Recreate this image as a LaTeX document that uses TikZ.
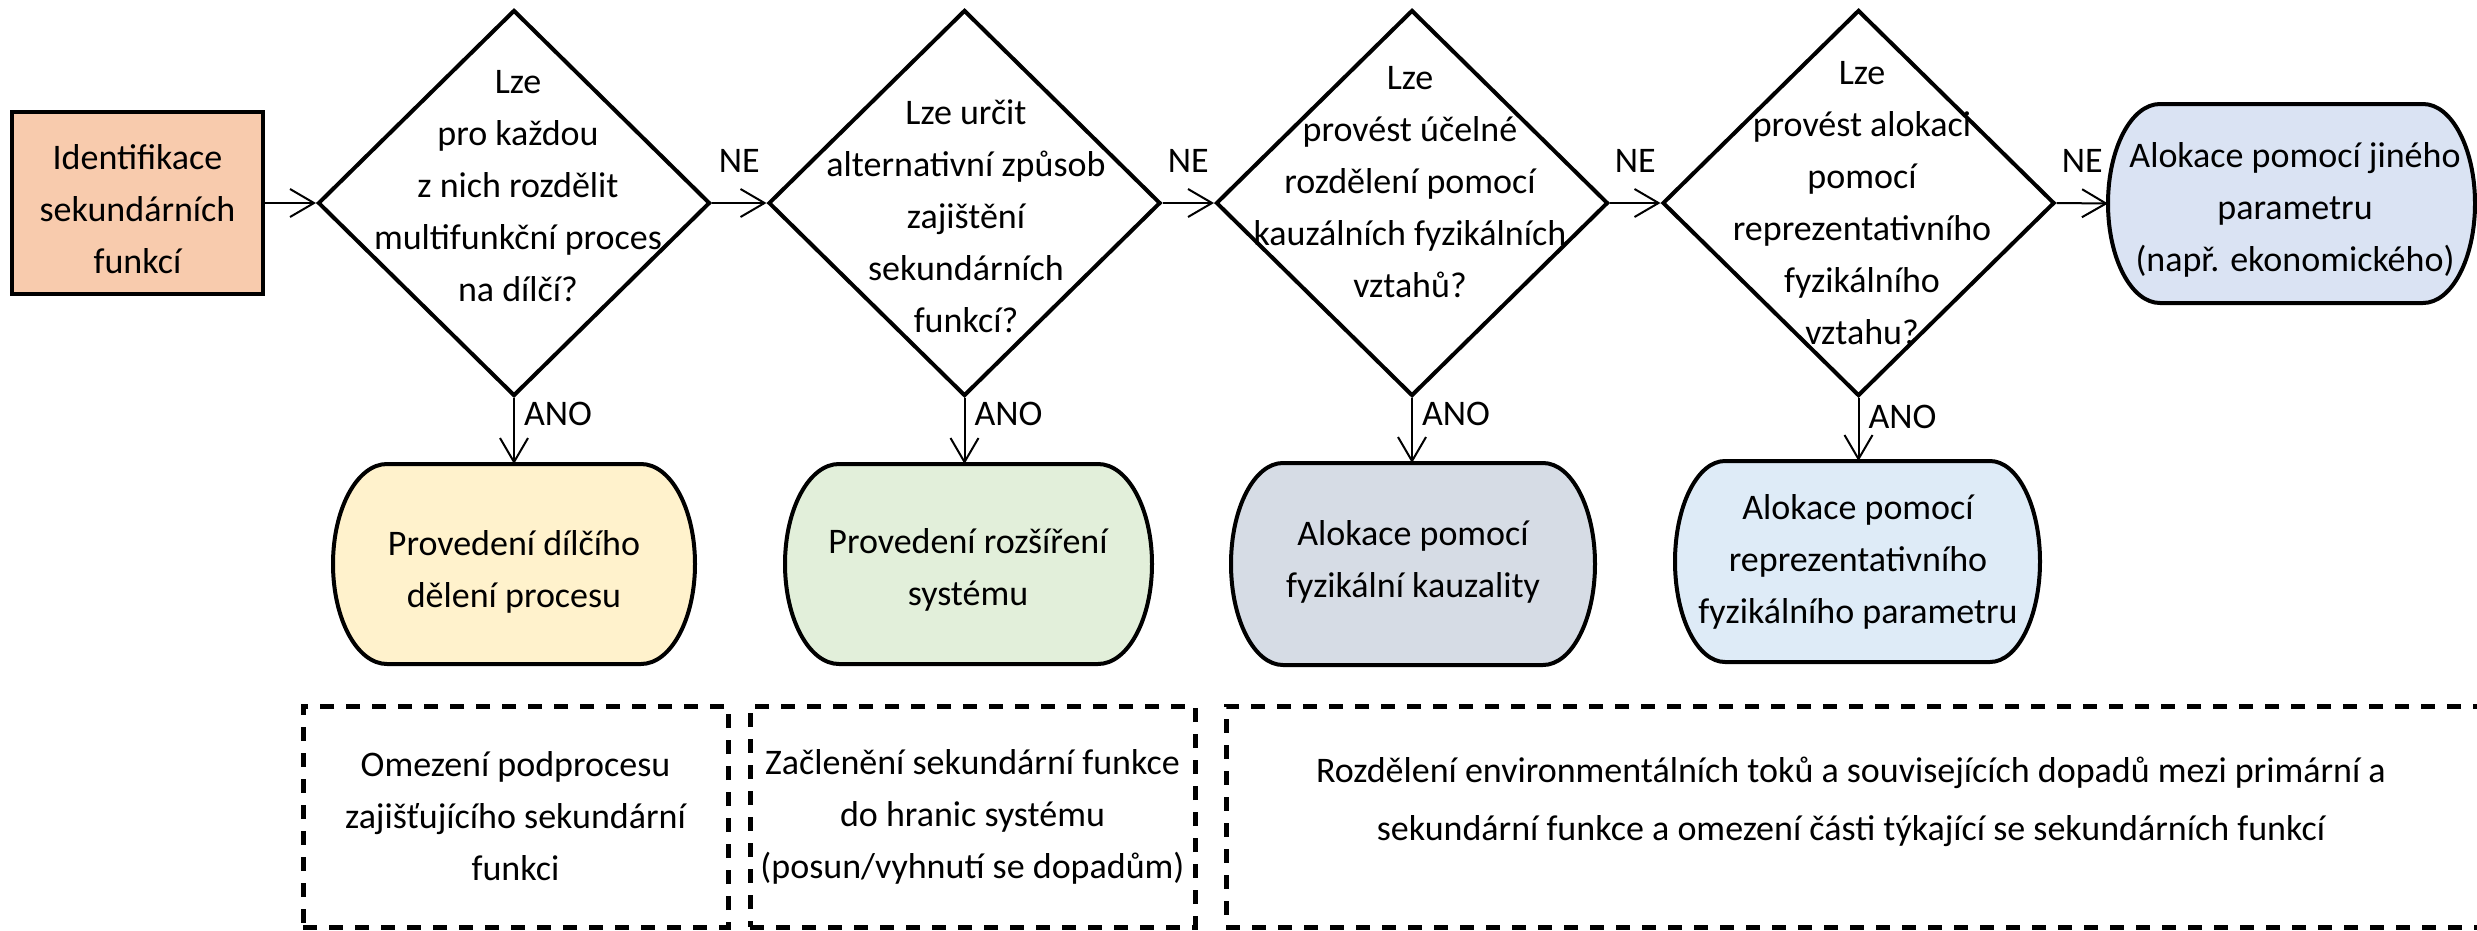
\documentclass[tikz,border=0pt]{standalone}
\usepackage{fontspec}
\setmainfont{Carlito}
\usetikzlibrary{shapes.geometric,arrows.meta}

\definecolor{cStart}{HTML}{F8CBAD}
\definecolor{cSplit}{HTML}{FFF2CC}
\definecolor{cExpand}{HTML}{E2EFDA}
\definecolor{cCausal}{HTML}{D6DCE5}
\definecolor{cParam}{HTML}{DEEBF7}
\definecolor{cOther}{HTML}{DAE3F3}

\tikzset{
  txt/.style={font=\fontsize{36}{52}\selectfont, align=center, inner sep=0pt},
  decision/.style={shape=diamond, draw, line width=4pt, minimum width=392pt,
                   minimum height=386pt, inner sep=0pt},
  startbox/.style={draw, line width=4pt, fill=cStart, minimum width=251pt,
                   minimum height=182pt, inner sep=0pt},
  flow/.style={line width=2pt, -{Straight Barb[length=24pt, width=28pt]}},
  lbl/.style={font=\fontsize{36}{42}\selectfont, inner sep=0pt},
  outline/.style={line width=4pt, line join=round},
  holder/.style={inner sep=0pt, outer sep=0pt},
  dashbox/.style={draw, line width=5pt, dash pattern=on 14pt off 12pt, inner sep=0pt},
}

% barrel-shaped result box: name, cx, cy, half width, half height, bulge, fill
\newcommand\barrelbox[7]{%
  \filldraw[outline, fill=#7]
    ({#2-#4+#6},{#3-#5}) -- ({#2+#4-#6},{#3-#5})
    arc[start angle=-90, end angle=90, x radius=#6, y radius=#5]
    -- ({#2-#4+#6},{#3+#5})
    arc[start angle=90, end angle=270, x radius=#6, y radius=#5] -- cycle;
  \node[holder, minimum width={2*#4 pt}, minimum height={2*#5 pt}] (#1) at (#2,#3) {};
}

\begin{document}
\begin{tikzpicture}[x=1pt, y=-1pt]
\useasboundingbox (0,0) rectangle (2477,930);

% start
\node[startbox] (start) at (137.5,203) {};
\node[txt] (startt) at (137.5,209) {Identifikace\\sekundárních\\funkcí};

% decisions
\node[decision] (q1) at (514,203) {};
\node[decision] (q2) at (964.5,203) {};
\node[decision] (q3) at (1412,203) {};
\node[decision] (q4) at (1858.5,203) {};

\node[txt] (q1t) at (518,186) {Lze\\pro každou\\z nich rozdělit\\multifunkční proces\\na dílčí?};
\node[txt] (q2t) at (966,216) {Lze určit\\alternativní způsob\\zajištění\\sekundárních\\funkcí?};
\node[txt] (q3t) at (1410,182) {Lze\\provést účelné\\rozdělení pomocí\\kauzálních fyzikálních\\vztahů?};
\node[txt] (q4t) at (1862,203) {Lze\\provést alokaci\\pomocí\\reprezentativního\\fyzikálního\\vztahu?};

% results
\barrelbox{other}{2291.5}{203.5}{183.5}{99.5}{52}{cOther}
\node[txt] (othert) at (2295,210) {Alokace pomocí jiného\\parametru\\(např. ekonomického)};

\barrelbox{b1}{514}{564}{181}{100}{54}{cSplit}
\barrelbox{b2}{968.5}{564}{183.5}{100}{54}{cExpand}
\barrelbox{b3}{1413}{564}{182}{101}{52}{cCausal}
\barrelbox{b4}{1857.5}{561.5}{182.5}{100.5}{50}{cParam}

\node[txt] (b1t) at (514,572) {Provedení dílčího\\dělení procesu};
\node[txt] (b2t) at (968,570) {Provedení rozšíření\\systému};
\node[txt] (b3t) at (1413,562) {Alokace pomocí\\fyzikální kauzality};
\node[txt] (b4t) at (1858,562) {Alokace pomocí\\reprezentativního\\fyzikálního parametru};

% connectors along the main line
\draw[flow] (start.east) -- (q1.west);
\draw[flow] (q1.east) -- node[lbl, midway, anchor=south, yshift=30pt] (ne1) {NE} (q2.west);
\draw[flow] (q2.east) -- node[lbl, midway, anchor=south, yshift=30pt] (ne2) {NE} (q3.west);
\draw[flow] (q3.east) -- node[lbl, midway, anchor=south, yshift=30pt] (ne3) {NE} (q4.west);
\draw[flow] (q4.east) -- node[lbl, midway, anchor=south, yshift=30pt] (ne4) {NE} (other.west);

% connectors down to the results
\draw[flow] (q1.south) -- node[lbl, pos=0, anchor=north west, xshift=9pt, yshift=-3pt] (ano1) {ANO} (q1.south |- b1.north);
\draw[flow] (q2.south) -- node[lbl, pos=0, anchor=north west, xshift=9pt, yshift=-3pt] (ano2) {ANO} (q2.south |- b2.north);
\draw[flow] (q3.south) -- node[lbl, pos=0, anchor=north west, xshift=9pt, yshift=-3pt] (ano3) {ANO} (q3.south |- b3.north);
\draw[flow] (q4.south) -- node[lbl, pos=0, anchor=north west, xshift=9pt, yshift=-6pt] (ano4) {ANO} (q4.south |- b4.north);

% consequences
\node[dashbox, txt, minimum width=425pt, minimum height=221pt] (n1) at (515.5,816.5)
  {Omezení podprocesu\\zajišťujícího sekundární\\funkci};
\node[dashbox, txt, minimum width=445pt, minimum height=221pt] (n2) at (972.5,816.5)
  {Začlenění sekundární funkce\\do hranic systému\\(posun/vyhnutí se dopadům)};
\node[dashbox, minimum width=1274pt, minimum height=221pt] (n3) at (1863,816.5) {};
\node[txt, font=\fontsize{36}{58}\selectfont] (n3t) at (1851,802)
  {Rozdělení environmentálních toků a souvisejících dopadů mezi primární a\\sekundární funkce a omezení části týkající se sekundárních funkcí};
\end{tikzpicture}
\end{document}
